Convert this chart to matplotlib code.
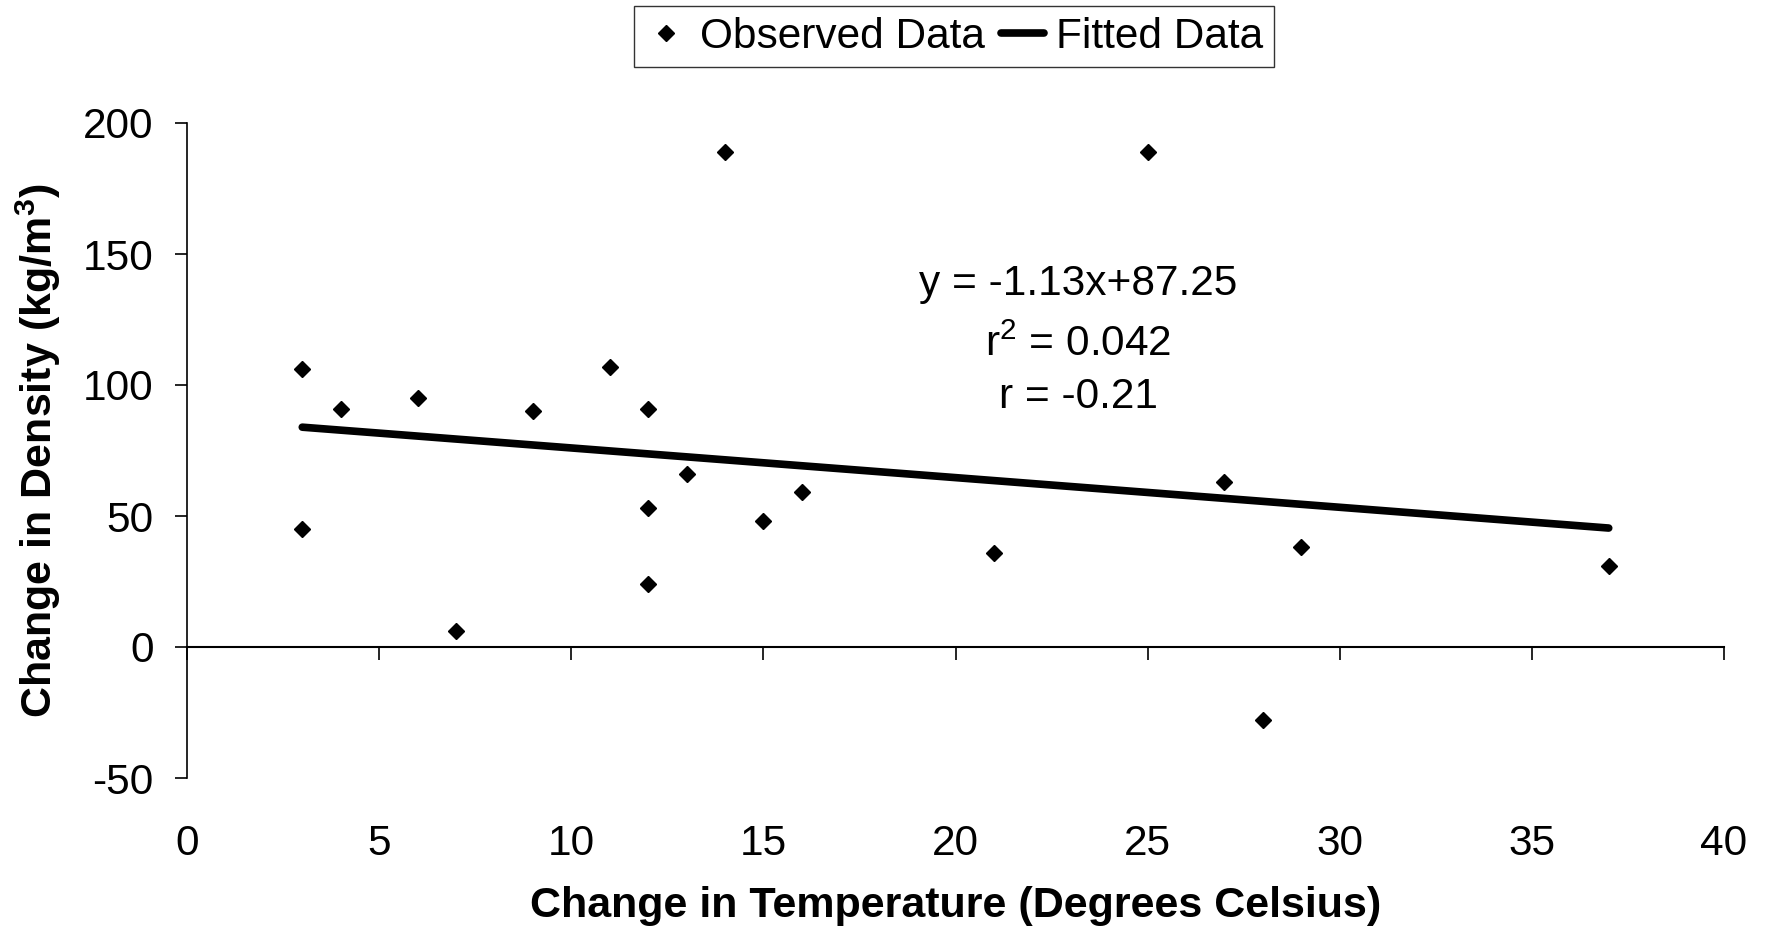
import matplotlib
matplotlib.use("Agg")
import matplotlib.pyplot as plt

plt.rcParams["font.family"] = ["Liberation Sans", "DejaVu Sans"]
plt.rcParams["mathtext.fontset"] = "custom"
plt.rcParams["mathtext.rm"] = "Liberation Sans"
plt.rcParams["mathtext.bf"] = "Liberation Sans:bold"
plt.rcParams["mathtext.default"] = "regular"
plt.rcParams["axes.unicode_minus"] = False

temp_change = [3, 3, 4, 6, 7, 9, 11, 12, 12, 12, 13, 14, 15, 16, 21, 25, 27, 28, 29, 37]
density_change = [106, 45, 91, 95, 6, 90, 107, 91, 53, 24, 66, 189, 48, 59, 36, 189, 63, -28, 38, 31]

# fitted line end points
fit_x = [3, 37]
fit_y = [83.9, 45.4]

x_ticks = [0, 5, 10, 15, 20, 25, 30, 35, 40]
y_ticks = [-50, 0, 50, 100, 150, 200]

fs = 30.5

fig = plt.figure(figsize=(17.67, 9.36), dpi=100)
ax = fig.add_axes([187 / 1767, 158 / 936, (1724 - 187) / 1767, (778 - 123) / 936])

ax.plot(temp_change, density_change, linestyle="none", marker="D", markersize=8,
        color="black", label="Observed Data", zorder=3)
ax.plot(fit_x, fit_y, color="black", linewidth=5.5, solid_capstyle="round",
        label="Fitted Data", zorder=2)

ax.set_xlim(0, 40)
ax.set_ylim(-50, 200)

for s in ("top", "right"):
    ax.spines[s].set_visible(False)
ax.spines["bottom"].set_position(("data", 0))
ax.spines["bottom"].set_linewidth(1.5)
ax.spines["left"].set_linewidth(1.2)

ax.set_xticks(x_ticks)
ax.set_yticks(y_ticks)
ax.tick_params(axis="x", direction="out", length=9, width=1.2, labelbottom=False)
ax.tick_params(axis="y", direction="out", length=9, width=1.2, labelsize=fs, pad=15)

# x tick labels sit at the bottom of the plot, below the zero line
sec = ax.secondary_xaxis("bottom")
sec.set_xticks(x_ticks)
sec.tick_params(length=0, labelsize=fs, pad=33)
sec.spines["bottom"].set_visible(False)

sec.set_xlabel("Change in Temperature (Degrees Celsius)", fontsize=31,
               fontweight="bold", labelpad=16)
ax.set_ylabel(r"Change in Density (kg/m$^{\mathbf{3}}$)", fontsize=31,
              fontweight="bold", labelpad=14)

ax.text(23.2, 138.5, "y = -1.13x+87.25", fontsize=fs, ha="center", va="center")
ax.text(23.2, 115.5, "r$^{2}$ = 0.042", fontsize=fs, ha="center", va="center")
ax.text(23.2, 95.5, "r = -0.21", fontsize=fs, ha="center", va="center")

leg = fig.legend(loc="upper center", bbox_to_anchor=(954 / 1767, 1 - 6 / 936), ncol=2,
                 fontsize=fs, frameon=True, fancybox=False, numpoints=1,
                 handlelength=1.0, handletextpad=0.3, columnspacing=0.4,
                 borderpad=0.25, borderaxespad=0)
leg.get_frame().set_edgecolor("black")
leg.get_frame().set_linewidth(1.0)

fig.savefig("out.png", dpi=100)
